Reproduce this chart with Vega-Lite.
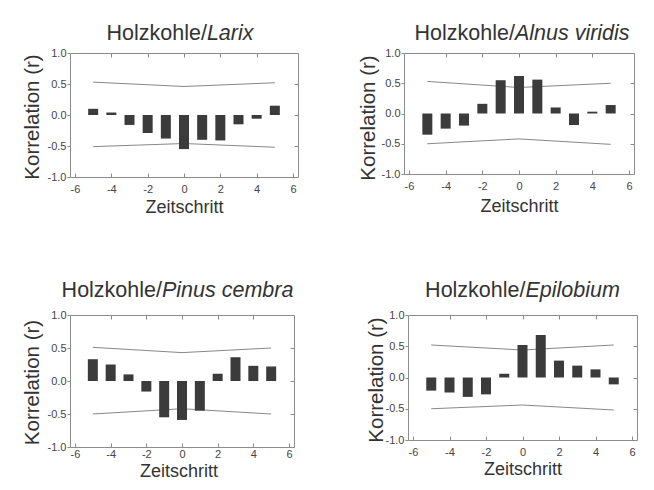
{
  "$schema": "https://vega.github.io/schema/vega-lite/v6.json",
  "autosize": {"type": "pad"},
  "padding": {"left": 21, "top": 21, "right": 0, "bottom": 0},
  "background": "white",
  "datasets": {
    "bars": [
      {"panel": "Larix", "k": -5, "r": 0.10}, {"panel": "Larix", "k": -4, "r": 0.04}, {"panel": "Larix", "k": -3, "r": -0.16},
      {"panel": "Larix", "k": -2, "r": -0.29}, {"panel": "Larix", "k": -1, "r": -0.38}, {"panel": "Larix", "k": 0, "r": -0.55},
      {"panel": "Larix", "k": 1, "r": -0.40}, {"panel": "Larix", "k": 2, "r": -0.41}, {"panel": "Larix", "k": 3, "r": -0.15},
      {"panel": "Larix", "k": 4, "r": -0.06}, {"panel": "Larix", "k": 5, "r": 0.15},
      {"panel": "Alnus", "k": -5, "r": -0.35}, {"panel": "Alnus", "k": -4, "r": -0.25}, {"panel": "Alnus", "k": -3, "r": -0.20},
      {"panel": "Alnus", "k": -2, "r": 0.16}, {"panel": "Alnus", "k": -1, "r": 0.55}, {"panel": "Alnus", "k": 0, "r": 0.62},
      {"panel": "Alnus", "k": 1, "r": 0.56}, {"panel": "Alnus", "k": 2, "r": 0.10}, {"panel": "Alnus", "k": 3, "r": -0.19},
      {"panel": "Alnus", "k": 4, "r": 0.03}, {"panel": "Alnus", "k": 5, "r": 0.14},
      {"panel": "Pinus", "k": -5, "r": 0.33}, {"panel": "Pinus", "k": -4, "r": 0.25}, {"panel": "Pinus", "k": -3, "r": 0.10},
      {"panel": "Pinus", "k": -2, "r": -0.16}, {"panel": "Pinus", "k": -1, "r": -0.55}, {"panel": "Pinus", "k": 0, "r": -0.59},
      {"panel": "Pinus", "k": 1, "r": -0.45}, {"panel": "Pinus", "k": 2, "r": 0.11}, {"panel": "Pinus", "k": 3, "r": 0.36},
      {"panel": "Pinus", "k": 4, "r": 0.23}, {"panel": "Pinus", "k": 5, "r": 0.22},
      {"panel": "Epilobium", "k": -5, "r": -0.21}, {"panel": "Epilobium", "k": -4, "r": -0.24}, {"panel": "Epilobium", "k": -3, "r": -0.31},
      {"panel": "Epilobium", "k": -2, "r": -0.27}, {"panel": "Epilobium", "k": -1, "r": 0.06}, {"panel": "Epilobium", "k": 0, "r": 0.52},
      {"panel": "Epilobium", "k": 1, "r": 0.68}, {"panel": "Epilobium", "k": 2, "r": 0.27}, {"panel": "Epilobium", "k": 3, "r": 0.19},
      {"panel": "Epilobium", "k": 4, "r": 0.13}, {"panel": "Epilobium", "k": 5, "r": -0.11}
    ],
    "ci": [
      {"panel": "Larix", "k": -5, "hi": 0.53, "lo": -0.51}, {"panel": "Larix", "k": 0, "hi": 0.46, "lo": -0.46}, {"panel": "Larix", "k": 5, "hi": 0.52, "lo": -0.52},
      {"panel": "Alnus", "k": -5, "hi": 0.53, "lo": -0.50}, {"panel": "Alnus", "k": 0, "hi": 0.43, "lo": -0.42}, {"panel": "Alnus", "k": 5, "hi": 0.50, "lo": -0.51},
      {"panel": "Pinus", "k": -5, "hi": 0.51, "lo": -0.50}, {"panel": "Pinus", "k": 0, "hi": 0.43, "lo": -0.42}, {"panel": "Pinus", "k": 5, "hi": 0.50, "lo": -0.50},
      {"panel": "Epilobium", "k": -5, "hi": 0.52, "lo": -0.50}, {"panel": "Epilobium", "k": 0, "hi": 0.44, "lo": -0.44}, {"panel": "Epilobium", "k": 5, "hi": 0.52, "lo": -0.52}
    ]
  },
  "bounds": "flush",
  "spacing": 262,
  "vconcat": [
    {
      "bounds": "flush",
      "spacing": 106,
      "hconcat": [
        {
          "width": 228, "height": 124,
          "layer": [
            {
              "data": {"name": "ci"}, "transform": [{"filter": "datum.panel == 'Larix'"}],
              "mark": {"type": "line", "color": "#888888", "strokeWidth": 1},
              "encoding": {
                "x": {"field": "k", "type": "quantitative", "scale": {"domain": [-6, 6], "nice": false},
                      "axis": {"orient": "top", "labels": false, "tickSize": -4, "values": [-4, -2, 0, 2, 4], "domain": false, "grid": false,
                               "title": "Holzkohle/", "titleX": 136.4, "titleY": -14, "titleAlign": "right", "titleBaseline": "alphabetic", "titleAngle": 0, "titleFontSize": 21.5}},
                "y": {"field": "hi", "type": "quantitative", "scale": {"domain": [-1, 1], "nice": false},
                      "axis": {"orient": "right", "labels": false, "tickSize": -4, "values": [-0.5, 0, 0.5], "domain": false, "grid": false,
                               "title": "Larix", "titleX": -91.6, "titleY": -14, "titleAlign": "left", "titleBaseline": "alphabetic", "titleAngle": 0, "titleFontStyle": "italic", "titleFontSize": 21.5}}
              }
            },
            {
              "data": {"name": "ci"}, "transform": [{"filter": "datum.panel == 'Larix'"}],
              "mark": {"type": "line", "color": "#888888", "strokeWidth": 1},
              "encoding": {
                "x": {"field": "k", "type": "quantitative", "axis": null},
                "y": {"field": "lo", "type": "quantitative", "axis": null}
              }
            },
            {
              "data": {"name": "bars"}, "transform": [{"filter": "datum.panel == 'Larix'"}],
              "mark": {"type": "bar", "size": 10, "color": "#3b3b3b"},
              "encoding": {
                "x": {"field": "k", "type": "quantitative",
                      "axis": {"orient": "bottom", "values": [-6, -4, -2, 0, 2, 4, 6], "format": "d", "tickSize": -4, "labelPadding": 10, "labelFlush": false, "labelOverlap": false, "domain": false, "grid": false,
                               "title": "Zeitschritt", "titleY": 35, "titleBaseline": "alphabetic", "titleFontSize": 18}},
                "y": {"field": "r", "type": "quantitative",
                      "axis": {"orient": "left", "values": [-1, -0.5, 0, 0.5, 1], "format": ".1f", "tickSize": 3, "labelPadding": 1, "labelOverlap": false, "labelFlush": false, "domain": false, "grid": false,
                               "title": "Korrelation (r)", "titleX": -32, "titleY": 63.5, "titleAngle": -90, "titleAlign": "center", "titleBaseline": "alphabetic", "titleFontSize": 20.5}}
              }
            }
          ],
          "resolve": {"axis": {"x": "independent", "y": "independent"}}
        },
        {
          "width": 230, "height": 121,
          "layer": [
            {
              "data": {"name": "ci"}, "transform": [{"filter": "datum.panel == 'Alnus'"}],
              "mark": {"type": "line", "color": "#888888", "strokeWidth": 1},
              "encoding": {
                "x": {"field": "k", "type": "quantitative", "scale": {"domain": [-6, 6], "nice": false},
                      "axis": {"orient": "top", "labels": false, "tickSize": -4, "values": [-4, -2, 0, 2, 4], "domain": false, "grid": false,
                               "title": "Holzkohle/", "titleX": 110.4, "titleY": -14, "titleAlign": "right", "titleBaseline": "alphabetic", "titleAngle": 0, "titleFontSize": 21.5}},
                "y": {"field": "hi", "type": "quantitative", "scale": {"domain": [-1, 1], "nice": false},
                      "axis": {"orient": "right", "labels": false, "tickSize": -4, "values": [-0.5, 0, 0.5], "domain": false, "grid": false,
                               "title": "Alnus viridis", "titleX": -119.6, "titleY": -14, "titleAlign": "left", "titleBaseline": "alphabetic", "titleAngle": 0, "titleFontStyle": "italic", "titleFontSize": 21.5}}
              }
            },
            {
              "data": {"name": "ci"}, "transform": [{"filter": "datum.panel == 'Alnus'"}],
              "mark": {"type": "line", "color": "#888888", "strokeWidth": 1},
              "encoding": {
                "x": {"field": "k", "type": "quantitative", "axis": null},
                "y": {"field": "lo", "type": "quantitative", "axis": null}
              }
            },
            {
              "data": {"name": "bars"}, "transform": [{"filter": "datum.panel == 'Alnus'"}],
              "mark": {"type": "bar", "size": 10, "color": "#3b3b3b"},
              "encoding": {
                "x": {"field": "k", "type": "quantitative",
                      "axis": {"orient": "bottom", "values": [-6, -4, -2, 0, 2, 4, 6], "format": "d", "tickSize": -4, "labelPadding": 10, "labelFlush": false, "labelOverlap": false, "domain": false, "grid": false,
                               "title": "Zeitschritt", "titleY": 37, "titleBaseline": "alphabetic", "titleFontSize": 18}},
                "y": {"field": "r", "type": "quantitative",
                      "axis": {"orient": "left", "values": [-1, -0.5, 0, 0.5, 1], "format": ".1f", "tickSize": 3, "labelPadding": 1, "labelOverlap": false, "labelFlush": false, "domain": false, "grid": false,
                               "title": "Korrelation (r)", "titleX": -30, "titleY": 64.5, "titleAngle": -90, "titleAlign": "center", "titleBaseline": "alphabetic", "titleFontSize": 20.5}}
              }
            }
          ],
          "resolve": {"axis": {"x": "independent", "y": "independent"}}
        }
      ]
    },
    {
      "bounds": "flush",
      "spacing": 114,
      "hconcat": [
        {
          "width": 224, "height": 132,
          "layer": [
            {
              "data": {"name": "ci"}, "transform": [{"filter": "datum.panel == 'Pinus'"}],
              "mark": {"type": "line", "color": "#888888", "strokeWidth": 1},
              "encoding": {
                "x": {"field": "k", "type": "quantitative", "scale": {"domain": [-6, 6], "nice": false},
                      "axis": {"orient": "top", "labels": false, "tickSize": -4, "values": [-4, -2, 0, 2, 4], "domain": false, "grid": false,
                               "title": "Holzkohle/", "titleX": 91.5, "titleY": -18.6, "titleAlign": "right", "titleBaseline": "alphabetic", "titleAngle": 0, "titleFontSize": 21.5}},
                "y": {"field": "hi", "type": "quantitative", "scale": {"domain": [-1, 1], "nice": false},
                      "axis": {"orient": "right", "labels": false, "tickSize": -4, "values": [-0.5, 0, 0.5], "domain": false, "grid": false,
                               "title": "Pinus cembra", "titleX": -132.5, "titleY": -18.6, "titleAlign": "left", "titleBaseline": "alphabetic", "titleAngle": 0, "titleFontStyle": "italic", "titleFontSize": 21.5}}
              }
            },
            {
              "data": {"name": "ci"}, "transform": [{"filter": "datum.panel == 'Pinus'"}],
              "mark": {"type": "line", "color": "#888888", "strokeWidth": 1},
              "encoding": {
                "x": {"field": "k", "type": "quantitative", "axis": null},
                "y": {"field": "lo", "type": "quantitative", "axis": null}
              }
            },
            {
              "data": {"name": "bars"}, "transform": [{"filter": "datum.panel == 'Pinus'"}],
              "mark": {"type": "bar", "size": 10, "color": "#3b3b3b"},
              "encoding": {
                "x": {"field": "k", "type": "quantitative",
                      "axis": {"orient": "bottom", "values": [-6, -4, -2, 0, 2, 4, 6], "format": "d", "tickSize": -4, "labelPadding": 5, "labelFlush": false, "labelOverlap": false, "domain": false, "grid": false,
                               "title": "Zeitschritt", "titleX": 108.5, "titleY": 29, "titleBaseline": "alphabetic", "titleFontSize": 18}},
                "y": {"field": "r", "type": "quantitative",
                      "axis": {"orient": "left", "values": [-1, -0.5, 0, 0.5, 1], "format": ".1f", "tickSize": 3, "labelPadding": 1, "labelOverlap": false, "labelFlush": false, "domain": false, "grid": false,
                               "title": "Korrelation (r)", "titleX": -32, "titleY": 67, "titleAngle": -90, "titleAlign": "center", "titleBaseline": "alphabetic", "titleFontSize": 20.5}}
              }
            }
          ],
          "resolve": {"axis": {"x": "independent", "y": "independent"}}
        },
        {
          "width": 229, "height": 125,
          "layer": [
            {
              "data": {"name": "ci"}, "transform": [{"filter": "datum.panel == 'Epilobium'"}],
              "mark": {"type": "line", "color": "#888888", "strokeWidth": 1},
              "encoding": {
                "x": {"field": "k", "type": "quantitative", "scale": {"domain": [-6, 6], "nice": false},
                      "axis": {"orient": "top", "labels": false, "tickSize": -4, "values": [-4, -2, 0, 2, 4], "domain": false, "grid": false,
                               "title": "Holzkohle/", "titleX": 117, "titleY": -18.6, "titleAlign": "right", "titleBaseline": "alphabetic", "titleAngle": 0, "titleFontSize": 21.5}},
                "y": {"field": "hi", "type": "quantitative", "scale": {"domain": [-1, 1], "nice": false},
                      "axis": {"orient": "right", "labels": false, "tickSize": -4, "values": [-0.5, 0, 0.5], "domain": false, "grid": false,
                               "title": "Epilobium", "titleX": -112, "titleY": -18.6, "titleAlign": "left", "titleBaseline": "alphabetic", "titleAngle": 0, "titleFontStyle": "italic", "titleFontSize": 21.5}}
              }
            },
            {
              "data": {"name": "ci"}, "transform": [{"filter": "datum.panel == 'Epilobium'"}],
              "mark": {"type": "line", "color": "#888888", "strokeWidth": 1},
              "encoding": {
                "x": {"field": "k", "type": "quantitative", "axis": null},
                "y": {"field": "lo", "type": "quantitative", "axis": null}
              }
            },
            {
              "data": {"name": "bars"}, "transform": [{"filter": "datum.panel == 'Epilobium'"}],
              "mark": {"type": "bar", "size": 10, "color": "#3b3b3b"},
              "encoding": {
                "x": {"field": "k", "type": "quantitative",
                      "axis": {"orient": "bottom", "values": [-6, -4, -2, 0, 2, 4, 6], "format": "d", "tickSize": -4, "labelPadding": 10, "labelFlush": false, "labelOverlap": false, "domain": false, "grid": false,
                               "title": "Zeitschritt", "titleY": 34, "titleBaseline": "alphabetic", "titleFontSize": 18}},
                "y": {"field": "r", "type": "quantitative",
                      "axis": {"orient": "left", "values": [-1, -0.5, 0, 0.5, 1], "format": ".1f", "tickSize": 3, "labelPadding": 1, "labelOverlap": false, "labelFlush": false, "domain": false, "grid": false,
                               "title": "Korrelation (r)", "titleX": -26, "titleY": 64.5, "titleAngle": -90, "titleAlign": "center", "titleBaseline": "alphabetic", "titleFontSize": 20.5}}
              }
            }
          ],
          "resolve": {"axis": {"x": "independent", "y": "independent"}}
        }
      ]
    }
  ],
  "config": {
    "font": "Liberation Sans",
    "locale": {"number": {"decimal": ".", "thousands": ",", "grouping": [3], "currency": ["$", ""], "minus": "-"}},
    "view": {"stroke": "#8c8c8c", "strokeWidth": 1},
    "axis": {"labelFont": "Liberation Sans", "labelFontSize": 11, "labelColor": "#444444", "tickColor": "#8c8c8c", "tickWidth": 1,
             "titleFont": "Liberation Sans", "titleColor": "#333333", "titleFontWeight": "normal"}
  }
}
